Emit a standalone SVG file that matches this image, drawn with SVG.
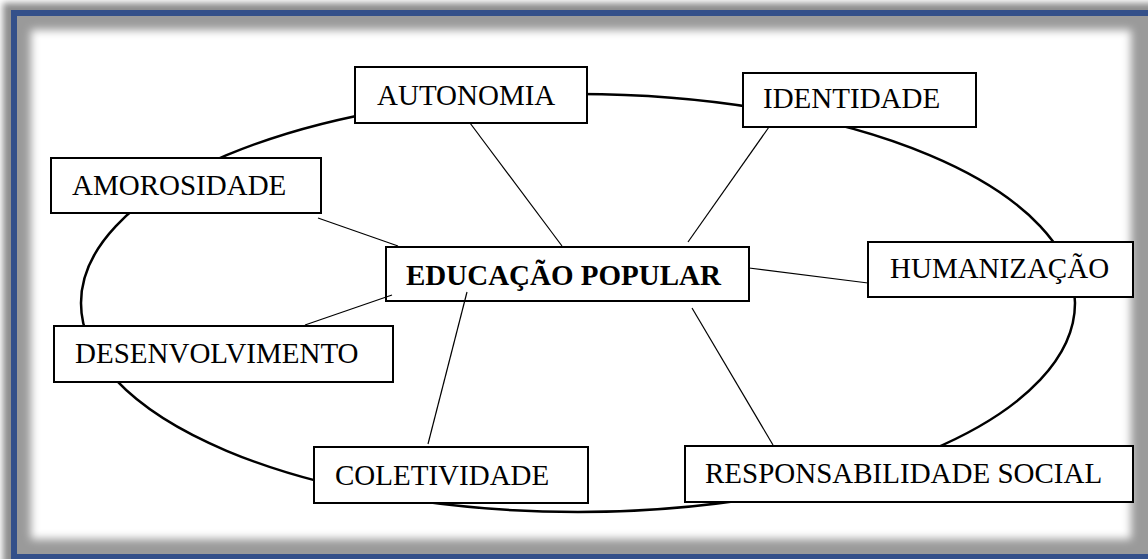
<svg xmlns="http://www.w3.org/2000/svg" width="1148" height="559" viewBox="0 0 1148 559">
<defs>
<filter id="b3" x="-5%" y="-5%" width="110%" height="110%"><feGaussianBlur stdDeviation="3"/></filter>
<filter id="b5" x="-5%" y="-5%" width="110%" height="110%"><feGaussianBlur stdDeviation="4.5"/></filter>
<clipPath id="inner"><rect x="17" y="16" width="1131" height="538"/></clipPath>
<style>
.box{fill:#fff;stroke:#000;stroke-width:2}
.lbl{font-family:"Liberation Serif","Times New Roman",serif;font-size:29px;fill:#000}
.bold{font-weight:bold}
.con{stroke:#000;stroke-width:1.2;fill:none}
</style>
</defs>
<rect x="0" y="0" width="1148" height="559" fill="#fff"/>
<rect x="3" y="3" width="1160" height="570" fill="#8e8e8e" filter="url(#b3)"/>
<rect x="14" y="13" width="1137" height="544" fill="none" stroke="#34508a" stroke-width="6"/>
<g clip-path="url(#inner)">
<rect x="17" y="16" width="1131" height="538" fill="#9a9a9a"/>
<rect x="31" y="30" width="1100" height="509" fill="#fff" filter="url(#b5)"/>
</g>
<ellipse cx="578" cy="303" rx="497" ry="209" fill="none" stroke="#000" stroke-width="2.5"/>
<g id="autonomia"><rect class="box" x="355" y="67" width="232" height="56"/><text class="lbl" x="377" y="105">AUTONOMIA</text></g>
<g id="identidade"><rect class="box" x="743" y="73" width="233" height="54"/><text class="lbl" x="763" y="108">IDENTIDADE</text></g>
<g id="amorosidade"><rect class="box" x="51" y="158" width="270" height="55"/><text class="lbl" x="72" y="195">AMOROSIDADE</text></g>
<g id="educacao"><rect class="box" x="386" y="247" width="363" height="54"/><text class="lbl bold" x="406" y="285">EDUCAÇÃO POPULAR</text></g>
<g id="humanizacao"><rect class="box" x="868" y="242" width="265" height="55"/><text class="lbl" x="890" y="278">HUMANIZAÇÃO</text></g>
<g id="desenvolvimento"><rect class="box" x="54" y="326" width="339" height="56"/><text class="lbl" x="75" y="363">DESENVOLVIMENTO</text></g>
<g id="coletividade"><rect class="box" x="314" y="447" width="274" height="56"/><text class="lbl" x="335" y="485">COLETIVIDADE</text></g>
<g id="responsabilidade"><rect class="box" x="685" y="446" width="448" height="56"/><text class="lbl" x="705" y="483">RESPONSABILIDADE SOCIAL</text></g>
<g id="connectors">
<line class="con" x1="470" y1="123" x2="562" y2="246"/>
<line class="con" x1="769" y1="127" x2="688" y2="242"/>
<line class="con" x1="318" y1="218" x2="398" y2="246"/>
<line class="con" x1="305" y1="325" x2="392" y2="295"/>
<line class="con" x1="428" y1="444" x2="467" y2="292"/>
<line class="con" x1="749" y1="268" x2="868" y2="283"/>
<line class="con" x1="692" y1="308" x2="773" y2="445"/>
</g>
</svg>
